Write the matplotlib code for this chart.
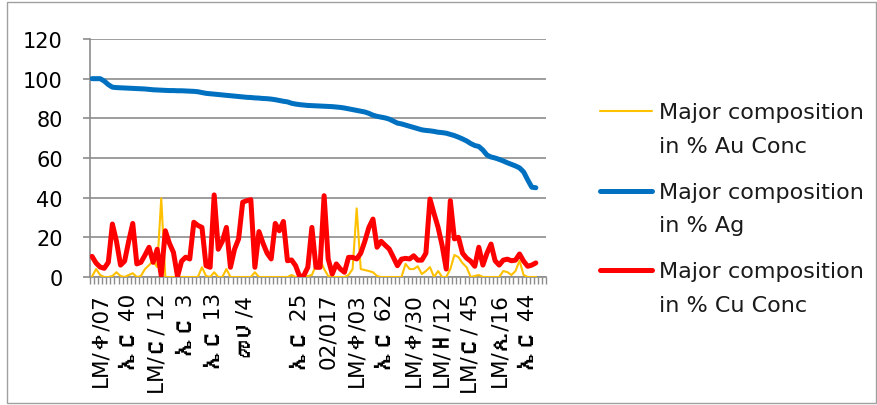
import matplotlib
matplotlib.use('Agg')
import matplotlib.pyplot as plt
from matplotlib import font_manager
from matplotlib.ft2font import FT2Font
from matplotlib.lines import Line2D
from matplotlib.patches import Rectangle
from matplotlib.ticker import FixedLocator, NullFormatter
import numpy as np

# values, one per sample
au_conc = [0.3, 4, 1, 0, 0, 0.5, 2.4, 0.5, 0, 1,
           1.9, 0, 0.5, 4, 6, 8, 5, 39.7, 0, 0,
           0, 0, 0, 0, 0, 0, 0, 4.9, 0.5, 0,
           2.4, 0, 0, 4, 0, 0, 0, 0, 0, 0,
           2.4, 0, 0, 0, 0, 0, 0, 0, 0,
           1, 0, 0, 0, 0.5, 1, 6, 9, 4, 0.5,
           0, 0, 0, 0, 1, 4, 34.6, 4, 3.5, 3,
           2.4, 0.5, 0, 0, 0, 0, 0, 0, 6.6, 4,
           4, 5.4, 1.5, 3, 5, 0, 3, 0, 0, 4,
           11.1, 10, 7, 4.9, 0, 0.5, 1, 0, 0, 0,
           0,
           0, 3, 2.5, 1, 3, 8.2, 1, 0, 0, 0]

ag = [100, 100, 100, 98.8, 97, 95.7, 95.5, 95.4, 95.3, 95.2,
      95.1, 95.0, 94.9, 94.8, 94.6, 94.4, 94.3, 94.2, 94.1, 94.0,
      94.0, 93.9, 93.9, 93.8, 93.7, 93.6, 93.4, 93.0, 92.6, 92.4,
      92.2, 92.0, 91.8, 91.6, 91.4, 91.2, 91.0, 90.8, 90.6, 90.5,
      90.3, 90.2, 90.0, 89.9, 89.7, 89.4, 89.0, 88.6, 88.3,
      87.6, 87.2, 86.9, 86.7, 86.5, 86.4, 86.3, 86.2, 86.1, 86.0,
      85.9, 85.7, 85.5, 85.2, 84.8, 84.4, 84.0, 83.6, 83.2, 82.5,
      81.6, 81.0, 80.6, 80.2, 79.6, 78.6, 77.6, 77.2, 76.6, 76.0,
      75.4, 74.8, 74.2, 73.9, 73.7, 73.4, 73.0, 72.8, 72.5, 71.9,
      71.3, 70.5, 69.6, 68.6, 67.3, 66.3, 65.8, 64.0, 61.5, 60.5,
      60.0,
      59.3, 58.5, 57.6, 56.8, 56.0, 55.0, 53.0, 49.0, 45.3, 45.0]

cu_conc = [10.4, 7, 5, 4.4, 7.4, 26.7, 18, 6, 8, 18,
           27, 6.6, 7.4, 11, 15, 7.4, 14, 0.7, 23.3, 17,
           12.4, 0.3, 8, 10, 9.1, 27.6, 26, 25, 5.7, 4.9,
           41.4, 14, 18, 25, 4.9, 14, 19.2, 37.7, 38.5, 39,
           4.9, 22.9, 17, 12, 9.1, 27, 23.3, 28, 8.2,
           8.6, 5.7, 0.2, 0.7, 4.9, 25, 4.9, 4.9, 41, 9.1,
           1.5, 6.6, 4, 2.4, 9.9, 9.9, 9.1, 12, 18, 25,
           29.2, 15, 18, 16, 14.1, 10, 5.7, 9, 9.4, 9.1,
           10.7, 8.5, 8.5, 12, 39.3, 32, 25, 15.8, 4, 38.5,
           19.2, 20, 12, 9.5, 8, 5.4, 15, 6, 12, 16.6,
           8.2,
           6, 8.5, 9, 8.2, 8.5, 11.6, 8, 5.4, 6, 7.1]

tick_labels = ['LM/ቀ/07', 'ኤር 40', 'LM/ር/ 12', 'ኤር 3', 'ኤር 13', 'መሀ/4', '',
               'ኤር 25', '02/017', 'LM/ቀ/03', 'ኤር 62', 'LM/ቀ/30', 'LM/ዘ/12',
               'LM/ር/ 45', 'LM/ጺ/16', 'ኤር 44']

series_names = ['Major composition\nin % Au Conc',
                'Major composition\nin % Ag',
                'Major composition\nin % Cu Conc']


def family_with_glyph(ch):
    """Look through the installed fonts for one that can draw ch."""
    for entry in font_manager.fontManager.ttflist:
        try:
            if FT2Font(entry.fname).get_char_index(ord(ch)):
                return entry.name
        except Exception:
            continue
    return None


families = ['DejaVu Sans']
ethiopic = family_with_glyph('ሀ')
if ethiopic and ethiopic not in families:
    families.append(ethiopic)
plt.rcParams['font.family'] = families

n_categories = 112
grey = '#8c8c8c'

fig = plt.figure(figsize=(8.77, 4.06), dpi=100)
ax = fig.add_axes([90 / 877, 1 - 278 / 406, (546 - 90) / 877, (278 - 40) / 406])

x = np.arange(len(ag))
ax.plot(x, au_conc, color='#FFC000', lw=1.5, zorder=3)
ax.plot(x, ag, color='#0070C0', lw=3.6, zorder=4, solid_capstyle='round')
ax.plot(x, cu_conc, color='#FF0000', lw=3.6, zorder=5, solid_capstyle='round')

ax.set_xlim(-0.5, n_categories - 0.5)
ax.set_ylim(0, 120)
ax.set_yticks(range(0, 121, 20))
ax.yaxis.grid(True, color=grey, lw=1.2)
ax.set_axisbelow(True)

# labels every 7th category, tick marks on every category boundary
ax.set_xticks(range(2, 2 + 7 * len(tick_labels), 7))
ax.set_xticklabels(tick_labels, rotation=90, fontsize=15.5)
ax.tick_params(axis='x', which='major', length=0, pad=11)
ax.xaxis.set_minor_locator(FixedLocator(np.arange(-0.5, n_categories, 1)))
ax.xaxis.set_minor_formatter(NullFormatter())
ax.tick_params(axis='x', which='minor', length=5, width=1, color=grey)
ax.tick_params(axis='y', length=5, width=1.2, color=grey, pad=14.5, labelsize=15)

for side in ['top', 'right']:
    ax.spines[side].set_visible(False)
for side in ['left', 'bottom']:
    ax.spines[side].set_color(grey)
    ax.spines[side].set_linewidth(1.2)

# legend drawn by hand so the key sits on the first text line
colors = ['#FFC000', '#0070C0', '#FF0000']
widths = [1.5, 3.6, 3.6]
for k, (name, c, w) in enumerate(zip(series_names, colors, widths)):
    yl = 1 - (112 + 79.5 * k) / 406
    fig.add_artist(Line2D([600 / 877, 652 / 877], [yl, yl], color=c, lw=w,
                          solid_capstyle='round', transform=fig.transFigure))
    fig.text(659 / 877, yl - 41 / 406, name, fontsize=16, va='baseline',
             ha='left', linespacing=1.85, color='#1a1a1a')

fig.add_artist(Rectangle((7 / 877, 2 / 406), 869 / 877, 401 / 406,
                         fill=False, edgecolor='#a0a0a0', lw=1,
                         transform=fig.transFigure))

fig.savefig('out.png', dpi=100)
